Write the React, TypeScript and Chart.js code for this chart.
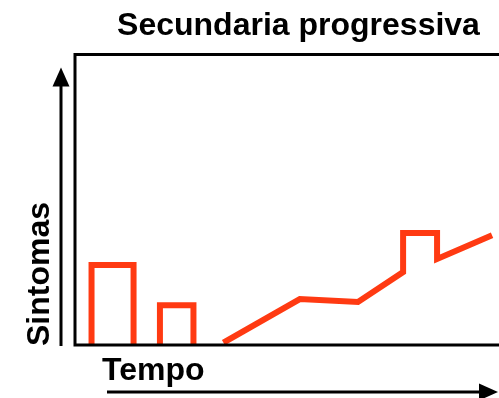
import React, { useEffect, useRef } from "react";
import { Chart, registerables } from "chart.js";

Chart.register(...registerables);

const TITLE = "Secundaria progressiva";
const Y_LABEL = "Sintomas";
const X_LABEL = "Tempo";

// first relapse (tall block)
const relapse1Time = [3.7, 3.7, 13.1, 13.1];
const relapse1Symptoms = [0, 27.5, 27.5, 0];
// second relapse (small block)
const relapse2Time = [19.0, 19.0, 26.5, 26.5];
const relapse2Symptoms = [0, 13.7, 13.7, 0];
// secondary progression
const progressionTime = [33.2, 50.3, 63.3, 73.4, 73.4, 81.0, 81.0, 93.3];
const progressionSymptoms = [0.8, 15.8, 14.8, 25.1, 38.5, 38.5, 29.6, 37.8];

const RED = "#ff3a12";
const FONT = "'Liberation Sans', Arial, sans-serif";

const toPoints = (xs: number[], ys: number[]) => xs.map((x, i) => ({ x, y: ys[i] }));

const framePlugin = {
  id: "frameArrows",
  afterDatasetsDraw(chart: any) {
    const { ctx, chartArea: a } = chart;
    ctx.save();
    ctx.strokeStyle = "#000";
    ctx.fillStyle = "#000";
    ctx.lineWidth = 3;
    ctx.lineJoin = "miter";
    ctx.lineCap = "butt";
    // frame (top, left, bottom)
    ctx.beginPath();
    ctx.moveTo(a.right, a.top);
    ctx.lineTo(a.left, a.top);
    ctx.lineTo(a.left, a.bottom);
    ctx.lineTo(a.right, a.bottom);
    ctx.stroke();

    // vertical arrow
    const ax = a.left - 14;
    ctx.beginPath();
    ctx.moveTo(ax, a.bottom + 1);
    ctx.lineTo(ax, a.top + 28);
    ctx.stroke();
    ctx.beginPath();
    ctx.moveTo(ax, a.top + 13);
    ctx.lineTo(ax - 8.5, a.top + 32);
    ctx.lineTo(ax + 8.5, a.top + 32);
    ctx.closePath();
    ctx.fill();

    // horizontal arrow
    const ay = a.bottom + 47;
    ctx.beginPath();
    ctx.moveTo(107, ay);
    ctx.lineTo(484, ay);
    ctx.stroke();
    ctx.beginPath();
    ctx.moveTo(498, ay);
    ctx.lineTo(479, ay - 8.5);
    ctx.lineTo(479, ay + 8.5);
    ctx.closePath();
    ctx.fill();

    // axis labels
    ctx.font = `bold 32px ${FONT}`;
    ctx.textBaseline = "alphabetic";
    ctx.textAlign = "left";
    ctx.fillText(X_LABEL, 102, a.bottom + 35);

    ctx.translate(48.5, 274);
    ctx.rotate(-Math.PI / 2);
    ctx.textAlign = "center";
    ctx.fillText(Y_LABEL, 0, 0);
    ctx.restore();
  },
};

export default function App() {
  const ref = useRef<HTMLCanvasElement | null>(null);

  useEffect(() => {
    if (!ref.current) return;
    const ds = (xs: number[], ys: number[]) => ({
      data: toPoints(xs, ys),
      borderColor: RED,
      backgroundColor: RED,
      borderWidth: 6,
      borderJoinStyle: "miter" as const,
      borderCapStyle: "butt" as const,
      tension: 0,
      fill: false,
      pointRadius: 0,
    });
    const chart = new Chart(ref.current, {
      type: "line",
      data: {
        datasets: [
          ds(relapse1Time, relapse1Symptoms),
          ds(relapse2Time, relapse2Symptoms),
          ds(progressionTime, progressionSymptoms),
        ],
      },
      options: {
        responsive: false,
        animation: false,
        devicePixelRatio: 1,
        layout: { padding: { left: 75, right: 0, top: 0, bottom: 53 } },
        plugins: {
          legend: { display: false },
          tooltip: { enabled: false },
          title: {
            display: true,
            text: TITLE,
            color: "#000",
            font: { family: FONT, size: 32, weight: "bold" },
            padding: { top: 7, bottom: 9 },
          },
        },
        scales: {
          x: { type: "linear", min: 0, max: 100, display: false },
          y: { type: "linear", min: 0, max: 100, display: false },
        },
      },
      plugins: [framePlugin],
    });
    return () => chart.destroy();
  }, []);

  return (
    <div
      style={{
        position: "fixed",
        left: 0,
        top: 0,
        width: 499,
        height: 398,
        overflow: "hidden",
        background: "#fff",
      }}
    >
      <canvas ref={ref} width={522} height={398} style={{ display: "block" }} />
    </div>
  );
}
